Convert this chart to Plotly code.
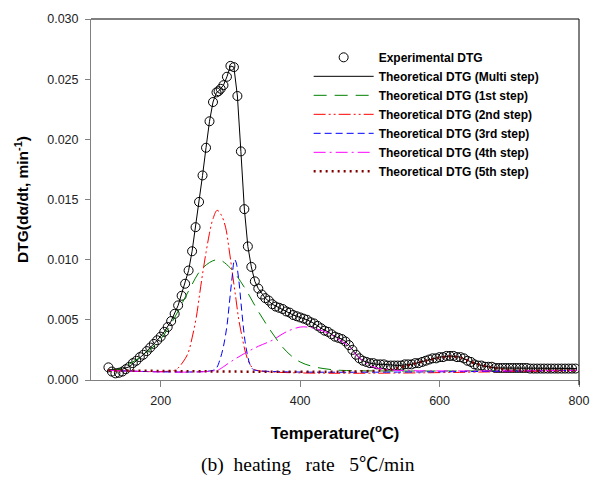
import plotly.graph_objects as go

# ---------------- data ----------------
exp_T = [125, 130, 135, 140, 145, 150, 155, 160, 165, 170, 175, 180, 185, 190, 195,
         200, 205, 210, 215, 220, 225, 230, 235, 240, 245, 250, 255, 260, 265, 270,
         275, 280, 283, 286, 290, 295, 300, 305, 310, 315, 320, 325, 330, 335, 340,
         345, 350, 355, 360, 365, 370, 375, 380, 385, 390, 395, 400, 405, 410, 415,
         420, 425, 430, 435, 440, 445, 450, 455, 460, 465, 470, 475, 480, 485, 490,
         495, 500, 505, 510, 515, 520, 525, 530, 535, 540, 545, 550, 555, 560, 565,
         570, 575, 580, 585, 590, 595, 600, 605, 610, 615, 620, 625, 630, 635, 640,
         645, 650, 655, 660, 665, 670, 675, 680, 685, 690, 695, 700, 705, 710, 715,
         720, 725, 730, 735, 740, 745, 750, 755, 760, 765, 770, 775, 780, 785, 790, 795]
exp_DTG = [0.00105, 0.00070, 0.00055, 0.00060, 0.00070, 0.00090, 0.00110, 0.00140, 0.00160, 0.00190,
           0.00210, 0.00240, 0.00270, 0.00300, 0.00330, 0.00360, 0.00400, 0.00440, 0.00490, 0.00550,
           0.00620, 0.00700, 0.00800, 0.00910, 0.01070, 0.01270, 0.01480, 0.01700, 0.01930, 0.02150,
           0.02310, 0.02390, 0.02400, 0.02420, 0.02450, 0.02520, 0.02610, 0.02600, 0.02360, 0.01900,
           0.01420, 0.01110, 0.00940, 0.00820, 0.00760, 0.00710, 0.00680, 0.00660, 0.00630, 0.00610,
           0.00600, 0.00590, 0.00570, 0.00560, 0.00540, 0.00530, 0.00520, 0.00510, 0.00500, 0.00480,
           0.00470, 0.00450, 0.00430, 0.00410, 0.00400, 0.00380, 0.00360, 0.00350, 0.00340, 0.00320,
           0.00290, 0.00250, 0.00210, 0.00180, 0.00160, 0.00150, 0.00140, 0.00140, 0.00130, 0.00130,
           0.00130, 0.00120, 0.00120, 0.00120, 0.00120, 0.00120, 0.00130, 0.00130, 0.00130, 0.00140,
           0.00140, 0.00150, 0.00160, 0.00170, 0.00180, 0.00180, 0.00190, 0.00190, 0.00200, 0.00200,
           0.00200, 0.00190, 0.00190, 0.00180, 0.00160, 0.00150, 0.00130, 0.00120, 0.00120, 0.00110,
           0.00110, 0.00110, 0.00100, 0.00100, 0.00100, 0.00100, 0.00100, 0.00100, 0.00100, 0.00100,
           0.00100, 0.00100, 0.00095, 0.00095, 0.00095, 0.00095, 0.00095, 0.00095, 0.00095, 0.00095,
           0.00095, 0.00095, 0.00095, 0.00095, 0.00095, 0.00095]

multi_T = [125, 135, 145, 155, 165, 175, 185, 195, 205, 215, 225, 235, 240, 245, 250,
           255, 260, 265, 270, 275, 280, 283, 286, 290, 295, 300, 305, 310, 315, 320,
           325, 330, 335, 340, 350, 360, 370, 380, 390, 400, 410, 420, 430, 440, 450,
           460, 465, 470, 475, 480, 485, 490, 500, 510, 520, 540, 560, 580, 600, 615,
           630, 645, 660, 680, 700, 750, 797]
multi_DTG = [0.00085, 0.00085, 0.00090, 0.00110, 0.00160, 0.00210, 0.00270, 0.00330, 0.00400, 0.00490,
             0.00620, 0.00800, 0.00910, 0.01070, 0.01270, 0.01480, 0.01700, 0.01930, 0.02150, 0.02310,
             0.02390, 0.02400, 0.02420, 0.02450, 0.02520, 0.02610, 0.02600, 0.02360, 0.01900, 0.01420,
             0.01110, 0.00940, 0.00820, 0.00760, 0.00680, 0.00630, 0.00600, 0.00570, 0.00540, 0.00520,
             0.00500, 0.00470, 0.00430, 0.00400, 0.00360, 0.00340, 0.00320, 0.00290, 0.00250, 0.00210,
             0.00180, 0.00160, 0.00140, 0.00130, 0.00130, 0.00120, 0.00130, 0.00160, 0.00190, 0.00200,
             0.00190, 0.00150, 0.00120, 0.00100, 0.00100, 0.00095, 0.00095]

step1_T = [125, 140, 160, 180, 200, 220, 240, 260, 282, 300, 320, 340, 360, 380, 400, 420, 440, 460, 797]
step1_DTG = [0.00080, 0.00090, 0.00150, 0.00230, 0.00340, 0.00520, 0.00740, 0.00930, 0.01000, 0.00930,
             0.00770, 0.00570, 0.00390, 0.00240, 0.00150, 0.00110, 0.00090, 0.00080, 0.00080]

step2_T = [125, 220, 225, 232, 239, 245, 251, 256, 260, 265, 270, 275, 281, 287, 293, 298, 303,
           308, 312, 317, 322, 327, 332, 338, 797]
step2_DTG = [0.00080, 0.00080, 0.00100, 0.00150, 0.00220, 0.00350, 0.00520, 0.00720, 0.00880, 0.01060,
             0.01220, 0.01340, 0.01410, 0.01370, 0.01270, 0.01090, 0.00880, 0.00670, 0.00500, 0.00350,
             0.00220, 0.00140, 0.00100, 0.00080, 0.00080]

step3_T = [125, 275, 280, 285, 290, 295, 298, 302, 306, 308, 312, 315, 318, 321, 324, 328, 332, 336, 797]
step3_DTG = [0.00080, 0.00080, 0.00100, 0.00170, 0.00280, 0.00450, 0.00610, 0.00830, 0.01000, 0.00980,
             0.00830, 0.00650, 0.00470, 0.00320, 0.00220, 0.00130, 0.00090, 0.00080, 0.00080]

step4_T = [125, 280, 290, 300, 320, 340, 360, 380, 400, 410, 420, 440, 460, 470, 480, 490, 500, 510,
           520, 540, 797]
step4_DTG = [0.00080, 0.00080, 0.00110, 0.00150, 0.00220, 0.00280, 0.00330, 0.00400, 0.00440, 0.00440,
             0.00430, 0.00390, 0.00320, 0.00280, 0.00210, 0.00160, 0.00120, 0.00100, 0.00090, 0.00080,
             0.00080]

step5_T = [125, 520, 540, 560, 580, 600, 615, 630, 650, 670, 690, 710, 797]
step5_DTG = [0.00080, 0.00080, 0.00100, 0.00130, 0.00160, 0.00185, 0.00195, 0.00185, 0.00140, 0.00110,
             0.00090, 0.00080, 0.00080]

names = ["Experimental DTG", "Theoretical DTG (Multi step)", "Theoretical DTG (1st step)",
         "Theoretical DTG (2nd step)", "Theoretical DTG (3rd step)", "Theoretical DTG (4th step)",
         "Theoretical DTG (5th step)"]

# ---------------- figure ----------------
fig = go.Figure()

fig.add_trace(go.Scatter(x=exp_T, y=exp_DTG, mode="markers", name="<b>" + names[0] + "</b>",
                         marker=dict(symbol="circle-open", size=9, color="black",
                                     line=dict(width=1, color="black"))))
fig.add_trace(go.Scatter(x=multi_T, y=multi_DTG, mode="lines", name="<b>" + names[1] + "</b>",
                         line=dict(color="black", width=1)))
fig.add_trace(go.Scatter(x=step1_T, y=step1_DTG, mode="lines", name="<b>" + names[2] + "</b>",
                         line=dict(color="#008000", width=1, dash="13px,8px", shape="spline")))
fig.add_trace(go.Scatter(x=step2_T, y=step2_DTG, mode="lines", name="<b>" + names[3] + "</b>",
                         line=dict(color="#ff0000", width=1, dash="12px,3px,2px,3px,2px,3px",
                                   shape="spline")))
fig.add_trace(go.Scatter(x=step3_T, y=step3_DTG, mode="lines", name="<b>" + names[4] + "</b>",
                         line=dict(color="#0000ff", width=1, dash="7px,4px", shape="spline")))
fig.add_trace(go.Scatter(x=step4_T, y=step4_DTG, mode="lines", name="<b>" + names[5] + "</b>",
                         line=dict(color="#ff00ff", width=1, dash="12px,4px,2px,4px", shape="spline")))
fig.add_trace(go.Scatter(x=step5_T, y=step5_DTG, mode="lines", name="<b>" + names[6] + "</b>",
                         line=dict(color="#800000", width=2.5, dash="2px,4px", shape="spline")))

sans = "Liberation Sans, Arial, sans-serif"
tick_font = dict(family=sans, size=12.5, color="#222222")

fig.update_layout(
    width=601, height=478,
    margin=dict(l=91, r=19, t=18, b=98),
    paper_bgcolor="white", plot_bgcolor="white",
    font=dict(family=sans, color="black"),
    showlegend=True,
    legend=dict(x=0.446, y=0.934, xanchor="left", yanchor="top",
                bgcolor="rgba(0,0,0,0)", borderwidth=0,
                font=dict(family=sans, size=12, color="black"),
                itemwidth=60, tracegroupgap=0),
    xaxis=dict(range=[100, 800], tickvals=[200, 400, 600, 800], showgrid=False, zeroline=False,
               showline=True, linecolor="#808080", linewidth=1,
               ticks="outside", ticklen=6, tickcolor="#808080", tickfont=tick_font,
               ticklabelstandoff=3,
               title=dict(text="<b>Temperature(<sup>o</sup>C)</b>", standoff=20,
                          font=dict(family=sans, size=16.5, color="black"))),
    yaxis=dict(range=[0, 0.030], dtick=0.005, tickformat=".3f", showgrid=False, zeroline=False,
               showline=True, linecolor="#808080", linewidth=1,
               ticks="outside", ticklen=5, tickcolor="#808080", tickfont=tick_font,
               ticklabelstandoff=4,
               title=dict(text="<b>DTG(dα/dt, min<sup>-1</sup>)</b>", standoff=14,
                          font=dict(family=sans, size=15.5, color="black"))),
    shapes=[
        dict(type="line", xref="paper", yref="paper", x0=0, x1=1, y0=1, y1=1,
             line=dict(color="black", width=1)),
        dict(type="line", xref="paper", yref="paper", x0=1, x1=1, y0=-0.014, y1=1,
             line=dict(color="black", width=1)),
    ],
    annotations=[
        dict(text="(b)&nbsp;&nbsp;heating&nbsp;&nbsp;&nbsp;rate&nbsp;&nbsp;&nbsp;5"
                  "<span style=\"font-family:'Noto Sans CJK JP'\">℃</span>/min",
             xref="paper", yref="paper",
             x=0.444, y=-0.229, xanchor="center", yanchor="middle", showarrow=False,
             font=dict(family="Liberation Serif, Times New Roman, serif", size=19.5, color="black")),
    ],
)

fig.write_html("out.html")
